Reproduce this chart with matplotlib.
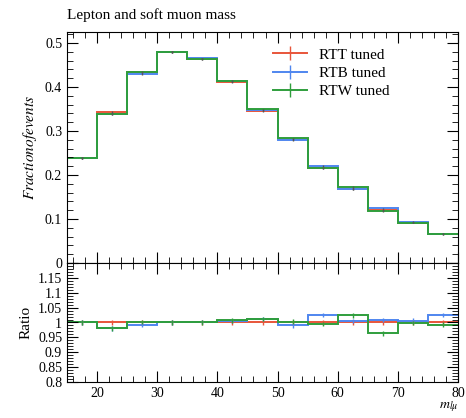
import numpy as np
import matplotlib
matplotlib.use("Agg")
import matplotlib.pyplot as plt
from matplotlib.ticker import MultipleLocator, FuncFormatter

# bin edges of m_lmu
edges = [15, 20, 25, 30, 35, 40, 45, 50, 55, 60, 65, 70, 75, 80]

# fraction of events per bin
rtt = [0.239, 0.344, 0.433, 0.479, 0.464, 0.411, 0.345, 0.282, 0.216, 0.168, 0.121, 0.092, 0.066]
rtb = [0.239, 0.338, 0.430, 0.479, 0.465, 0.413, 0.348, 0.280, 0.221, 0.169, 0.124, 0.093, 0.067]
rtw = [0.239, 0.338, 0.434, 0.479, 0.464, 0.413, 0.349, 0.283, 0.215, 0.172, 0.118, 0.092, 0.065]

# ratio to RTT
ratio_rtt = [1.0] * 13
ratio_rtb = [1.0, 0.981, 0.992, 1.0, 1.002, 1.005, 1.012, 0.990, 1.025, 1.005, 1.008, 1.006, 1.025]
ratio_rtw = [1.0, 0.981, 1.002, 1.0, 1.0, 1.007, 1.012, 1.003, 0.995, 1.024, 0.964, 0.998, 0.992]

labels = ["RTT tuned", "RTB tuned", "RTW tuned"]
colors = ["#e8553a", "#4f86ef", "#2f9e3c"]

plt.rcParams["font.family"] = "Liberation Serif"
plt.rcParams["mathtext.fontset"] = "stix"

fig = plt.figure(figsize=(4.66, 4.18), dpi=100)
W, H = 466, 418
ax = fig.add_axes([67 / W, 1 - 263 / H, (458 - 67) / W, (263 - 32) / H])
axr = fig.add_axes([67 / W, 1 - 382 / H, (458 - 67) / W, (382 - 263) / H], sharex=ax)

centers = [(edges[i] + edges[i + 1]) / 2 for i in range(len(edges) - 1)]


def step(a, vals, col, lab=None, err=0.0, errcol=None):
    a.stairs(vals, edges, color=col, lw=1.4, baseline=None)
    a.errorbar(centers, vals, yerr=err, fmt="none", ecolor=errcol or col, lw=1.0)
    if lab:
        a.plot([], [], color=col, lw=1.4, marker="|", ms=10, mew=1.0, label=lab)


step(ax, rtt, colors[0], labels[0], 0.002, "#555555")
step(ax, rtb, colors[1], labels[1], 0.002, "#555555")
step(ax, rtw, colors[2], labels[2], 0.002, "#555555")

step(axr, ratio_rtt, colors[0], err=0.008)
step(axr, ratio_rtb, colors[1], err=0.008)
step(axr, ratio_rtw, colors[2], err=0.008)

ax.set_xlim(15, 80)
ax.set_ylim(0, 0.525)
axr.set_ylim(0.8, 1.2)

fmt = FuncFormatter(lambda v, p: ("%g" % round(v, 3)))
fmt_r = FuncFormatter(lambda v, p: "" if v > 1.17 else ("%g" % round(v, 3)))
ax.yaxis.set_major_locator(MultipleLocator(0.1))
ax.yaxis.set_minor_locator(MultipleLocator(0.02))
ax.yaxis.set_major_formatter(fmt)
axr.yaxis.set_major_locator(MultipleLocator(0.05))
axr.yaxis.set_minor_locator(MultipleLocator(0.01))
axr.yaxis.set_major_formatter(fmt_r)
axr.xaxis.set_major_locator(MultipleLocator(10))
axr.xaxis.set_minor_locator(MultipleLocator(2))

for a in (ax, axr):
    a.tick_params(which="both", direction="in", top=True, right=True, labelsize=10)
    a.tick_params(which="major", length=8, width=0.8)
    a.tick_params(which="minor", length=4, width=0.6)
    for s in a.spines.values():
        s.set_linewidth(0.8)
plt.setp(ax.get_xticklabels(), visible=False)

ax.set_ylabel(r"$Fraction of events$", fontsize=11)
axr.set_ylabel("Ratio", fontsize=11)
fig.align_ylabels([ax, axr])
axr.set_xlabel(r"$m_{l\mu}$", fontsize=10, loc="right", labelpad=1)
ax.set_title("Lepton and soft muon mass", loc="left", fontsize=11, pad=9)

ax.legend(loc="upper right", bbox_to_anchor=(0.86, 0.99), frameon=False, fontsize=11,
          handlelength=2.2, labelspacing=0.3)

fig.savefig("out.png", dpi=100)
